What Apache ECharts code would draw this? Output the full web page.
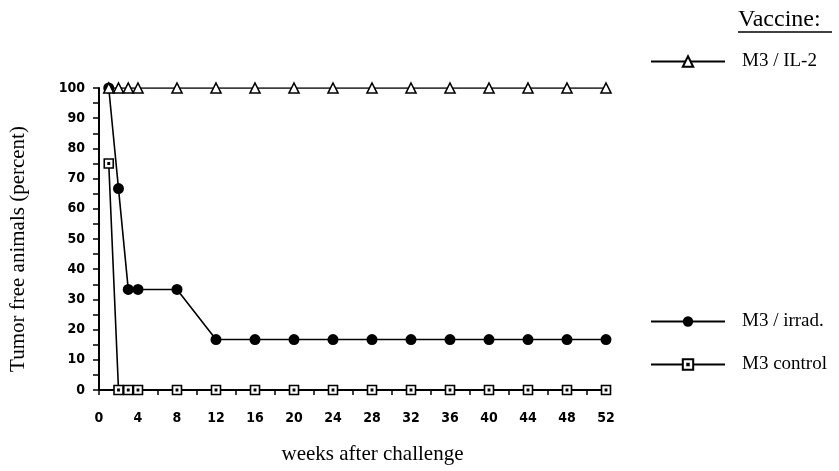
<!DOCTYPE html>
<html>
  <head>
    <meta charset="utf-8" />
    <title>Tumor free animals</title>
    <script src="https://cdn.jsdelivr.net/npm/echarts@6/dist/echarts.min.js"></script>
  </head>
  <body style="margin:0;padding:0;background:#fff;">
    <div id="chart" style="width:839px;height:471px;"></div>
    <script type="text/javascript">
      // weeks after challenge
      var weeks = [1, 2, 3, 4, 8, 12, 16, 20, 24, 28, 32, 36, 40, 44, 48, 52];
      // percent tumor free
      var il2 = [100, 100, 100, 100, 100, 100, 100, 100, 100, 100, 100, 100, 100, 100, 100, 100];
      var irrad = [100, 66.7, 33.3, 33.3, 33.3, 16.7, 16.7, 16.7, 16.7, 16.7, 16.7, 16.7, 16.7, 16.7, 16.7, 16.7];
      var control = [75, 0, 0, 0, 0, 0, 0, 0, 0, 0, 0, 0, 0, 0, 0, 0];

      var tickFont = "'DejaVu Sans Condensed', 'Liberation Sans Narrow', 'Liberation Sans', sans-serif";
      var serif = "'Liberation Serif', 'DejaVu Serif', serif";
      var squareDot = 'path://M0,0H10V10H0Z M4.3,4.3H5.7V5.7H4.3Z';

      function pairs(ys) {
        return weeks.map(function (w, i) { return [w, ys[i]]; });
      }

      var myChart = echarts.init(document.getElementById('chart'), null, { renderer: 'canvas' });

      function legendAt(name, top) {
        return {
          data: [name],
          left: 650,
          top: top,
          padding: 0,
          itemWidth: 74,
          itemHeight: 13,
          selectedMode: false,
          textStyle: { fontFamily: serif, fontSize: 19, color: '#000', padding: [0, 0, 0, 12] }
        };
      }

      myChart.setOption({
        animation: false,
        backgroundColor: '#fff',
        grid: { left: 98, right: 233, top: 88, bottom: 81 },
        legend: [
          legendAt('M3 / IL-2', 52),
          legendAt('M3 / irrad.', 312),
          legendAt('M3 control', 355)
        ],
        graphic: [
          {
            type: 'text',
            left: 738,
            top: 8,
            style: { text: 'Vaccine:', font: '24px ' + serif, fill: '#000' }
          },
          {
            type: 'line',
            shape: { x1: 738, y1: 32, x2: 832, y2: 32 },
            style: { stroke: '#000', lineWidth: 1.5 }
          }
        ],
        xAxis: {
          type: 'value',
          min: 0,
          max: 52,
          interval: 2,
          name: 'weeks after challenge',
          nameLocation: 'middle',
          nameGap: 54,
          nameTextStyle: { fontFamily: serif, fontSize: 21, color: '#000', padding: [0, 0, 0, 40] },
          axisLine: { onZero: false, lineStyle: { color: '#000', width: 2 } },
          axisTick: { show: true, length: 5, lineStyle: { color: '#000', width: 1.5 } },
          axisLabel: {
            margin: 21,
            fontFamily: tickFont,
            fontWeight: 'bold',
            fontSize: 14,
            color: '#000',
            formatter: function (v) { return v % 4 === 0 ? v : ''; }
          },
          splitLine: { show: false }
        },
        yAxis: {
          type: 'value',
          min: 0,
          max: 100,
          interval: 5,
          name: 'Tumor free animals (percent)',
          nameLocation: 'middle',
          nameGap: 70,
          nameTextStyle: { fontFamily: serif, fontSize: 21, color: '#000', padding: [0, 20, 0, 0] },
          axisLine: { show: true, lineStyle: { color: '#000', width: 2 } },
          axisTick: { show: true, length: 6, lineStyle: { color: '#000', width: 1.5 } },
          axisLabel: {
            margin: 14,
            fontFamily: tickFont,
            fontWeight: 'bold',
            fontSize: 14,
            color: '#000',
            formatter: function (v) { return v % 10 === 0 ? v : ''; }
          },
          splitLine: { show: false }
        },
        series: [
          {
            name: 'M3 / irrad.',
            type: 'line',
            data: pairs(irrad),
            symbol: 'circle',
            symbolSize: 11,
            itemStyle: { color: '#000' },
            lineStyle: { color: '#000', width: 1.6 },
            z: 2
          },
          {
            name: 'M3 control',
            type: 'line',
            data: pairs(control),
            symbol: squareDot,
            symbolSize: 9,
            showAllSymbol: true,
            itemStyle: { color: '#fff', borderColor: '#000', borderWidth: 1.6 },
            lineStyle: { color: '#000', width: 1.6 },
            z: 3
          },
          {
            name: 'M3 / IL-2',
            type: 'line',
            data: pairs(il2),
            symbol: 'triangle',
            symbolSize: 10,
            showAllSymbol: true,
            itemStyle: { color: '#fff', borderColor: '#000', borderWidth: 1.6 },
            lineStyle: { color: '#000', width: 1.6 },
            z: 4
          }
        ]
      });
    </script>
  </body>
</html>
